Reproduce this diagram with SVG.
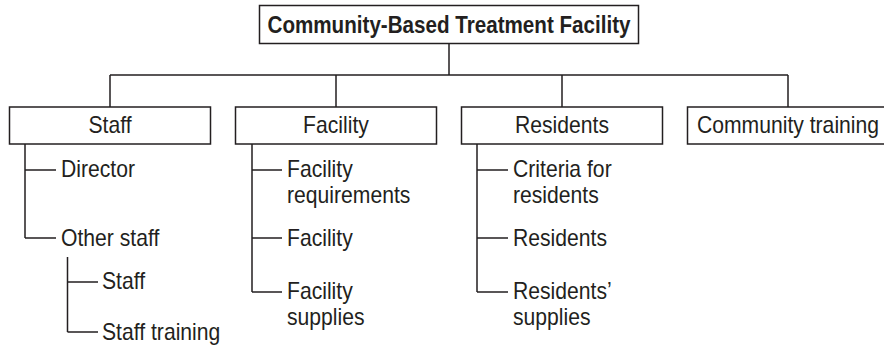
<svg xmlns="http://www.w3.org/2000/svg" width="884" height="345" viewBox="0 0 884 345">
<style>
.box{fill:#fff;stroke:#231f20;stroke-width:1.5}
.ln{fill:none;stroke:#231f20;stroke-width:1.5}
text{font-family:"Liberation Sans",Arial,sans-serif;font-size:23px;fill:#231f20;transform-box:fill-box;transform-origin:0 0;transform:scaleX(0.92)}
.t{font-weight:bold;font-size:24px;transform:none}
.c{text-anchor:middle;transform-origin:50% 0}
</style>
<rect width="884" height="345" fill="#fff"/>
<g id="connectors">
<path class="ln" d="M449 43V75M110 75H788M110 75V107M336 75V107M562 75V107M788 75V107"/>
<path class="ln" d="M25 144V238M25 170H56M25 238H56M67.5 257V332M67.5 282H98M67.5 332H98"/>
<path class="ln" d="M252 144V292M252 170H282M252 238H282M252 292H282"/>
<path class="ln" d="M477 144V292M477 170H508M477 238H508M477 292H508"/>
</g>
<g id="root">
<rect class="box" x="259.5" y="5.5" width="379" height="38"/>
<text class="t c" x="449" y="33" textLength="363" lengthAdjust="spacingAndGlyphs">Community-Based Treatment Facility</text>
</g>
<g id="staff">
<rect class="box" x="9.5" y="107" width="201" height="37"/>
<text class="c" x="110" y="133">Staff</text>
</g>
<g id="facility">
<rect class="box" x="235.5" y="107" width="201" height="37"/>
<text class="c" x="336" y="133">Facility</text>
</g>
<g id="residents">
<rect class="box" x="461.5" y="107" width="201" height="37"/>
<text class="c" x="562" y="133">Residents</text>
</g>
<g id="community">
<rect class="box" x="687.5" y="107" width="210" height="37"/>
<text class="c" x="788" y="133">Community training</text>
</g>
<g id="director"><text x="61" y="177">Director</text></g>
<g id="other-staff"><text x="61" y="246">Other staff</text></g>
<g id="staff-sub"><text x="102" y="289">Staff</text></g>
<g id="staff-training"><text x="102" y="340">Staff training</text></g>
<g id="facility-req"><text x="287" y="177">Facility</text><text x="287" y="203">requirements</text></g>
<g id="facility-sub"><text x="287" y="246">Facility</text></g>
<g id="facility-supplies"><text x="287" y="299">Facility</text><text x="287" y="325">supplies</text></g>
<g id="criteria"><text x="513" y="177">Criteria for</text><text x="513" y="203">residents</text></g>
<g id="residents-sub"><text x="513" y="246">Residents</text></g>
<g id="residents-supplies"><text x="513" y="299">Residents’</text><text x="513" y="325">supplies</text></g>
</svg>
